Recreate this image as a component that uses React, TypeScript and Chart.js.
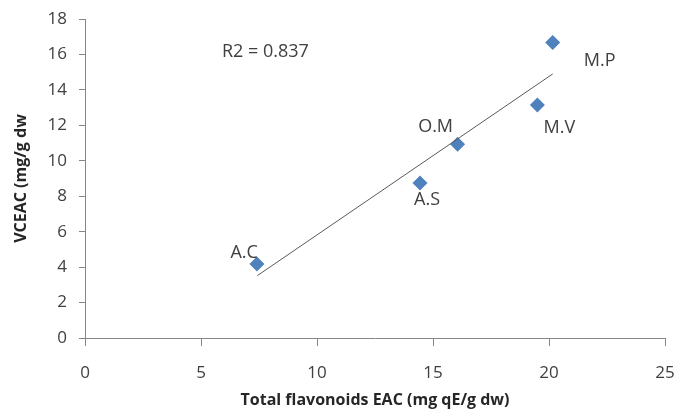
import React, { useEffect, useRef } from "react";
import { Chart, registerables } from "chart.js";

Chart.register(...registerables);

// ---- data ----
const sampleNames = ["A.C", "A.S", "O.M", "M.V", "M.P"];
const flavonoids = [7.41, 14.44, 16.06, 19.5, 20.16];
const vceac = [4.18, 8.75, 10.93, 13.15, 16.67];
const trendX = [7.43, 20.16];
const trendY = [3.52, 14.9];
const r2Text = "R2 = 0.837";
const xTitle = "Total flavonoids EAC (mg qE/g dw)";
const yTitle = "VCEAC (mg/g dw";

// ---- style / placement (pixels) ----
const labelOffsets: [number, number, CanvasTextAlign][] = [
  [1, -11, "right"],
  [7, 17, "center"],
  [-22, -17, "center"],
  [22, 23, "center"],
  [47, 18, "center"],
];
const r2Anchor = { x: 5.9, y: 16.15 };
const FONT = "'Open Sans', 'Liberation Sans', Arial, sans-serif";
const TEXT = "#404040";
const AXIS = "#868686";
const BLUE = "#4F81BD";

const labelPlugin = {
  id: "pointLabels",
  afterDatasetsDraw(chart: any) {
    const ctx = chart.ctx as CanvasRenderingContext2D;
    const meta = chart.getDatasetMeta(1);
    ctx.save();
    ctx.font = `18px ${FONT}`;
    ctx.fillStyle = TEXT;
    ctx.textBaseline = "middle";
    meta.data.forEach((el: any, i: number) => {
      const [dx, dy, align] = labelOffsets[i];
      ctx.textAlign = align;
      ctx.fillText(sampleNames[i], el.x + dx, el.y + dy);
    });
    const sx = chart.scales.x;
    const sy = chart.scales.y;
    ctx.textAlign = "left";
    ctx.fillText(r2Text, sx.getPixelForValue(r2Anchor.x), sy.getPixelForValue(r2Anchor.y));
    ctx.restore();
  },
};

export default function App() {
  const ref = useRef<HTMLCanvasElement | null>(null);
  useEffect(() => {
    if (!ref.current) return;
    const chart = new Chart(ref.current, {
      type: "scatter",
      data: {
        datasets: [
          {
            type: "line",
            data: trendX.map((x, i) => ({ x, y: trendY[i] })),
            borderColor: "#595959",
            borderWidth: 1,
            pointRadius: 0,
            fill: false,
          },
          {
            data: flavonoids.map((x, i) => ({ x, y: vceac[i] })),
            pointStyle: "rectRot",
            pointRadius: 7.5,
            backgroundColor: BLUE,
            borderColor: BLUE,
            borderWidth: 0,
          },
        ],
      },
      options: {
        animation: false,
        responsive: false,
        layout: { padding: { top: 19, right: 10, left: 0, bottom: 0 } },
        plugins: { legend: { display: false }, tooltip: { enabled: false } },
        scales: {
          x: {
            type: "linear",
            min: 0,
            max: 25,
            ticks: { stepSize: 5, color: TEXT, padding: 17, font: { family: FONT, size: 17 } },
            grid: { drawOnChartArea: false, drawTicks: true, tickLength: 8, color: AXIS },
            border: { color: AXIS, width: 1 },
            title: {
              display: true,
              text: xTitle,
              color: "#262626",
              font: { family: FONT, size: 16, weight: "bold" },
              padding: { top: 0, bottom: 0 },
            },
            afterFit: (s: any) => {
              s.height = 72;
              s.paddingLeft = 0;
              s.paddingRight = 0;
            },
          },
          y: {
            min: 0,
            max: 18,
            ticks: { stepSize: 2, color: TEXT, padding: 12, font: { family: FONT, size: 17 } },
            grid: { drawOnChartArea: false, drawTicks: true, tickLength: 6, color: AXIS },
            border: { color: AXIS, width: 1 },
            title: {
              display: true,
              text: yTitle,
              color: "#262626",
              font: { family: FONT, size: 16, weight: "bold" },
              padding: { top: 12, bottom: 0 },
            },
            afterFit: (s: any) => {
              s.width = 85;
              s.paddingTop = 0;
              s.paddingBottom = 0;
            },
          },
        },
      },
      plugins: [labelPlugin],
    });
    return () => chart.destroy();
  }, []);
  return (
    <div style={{ position: "fixed", left: 0, top: 0, width: 675, height: 410, background: "#fff" }}>
      <canvas ref={ref} width={675} height={410} />
    </div>
  );
}
